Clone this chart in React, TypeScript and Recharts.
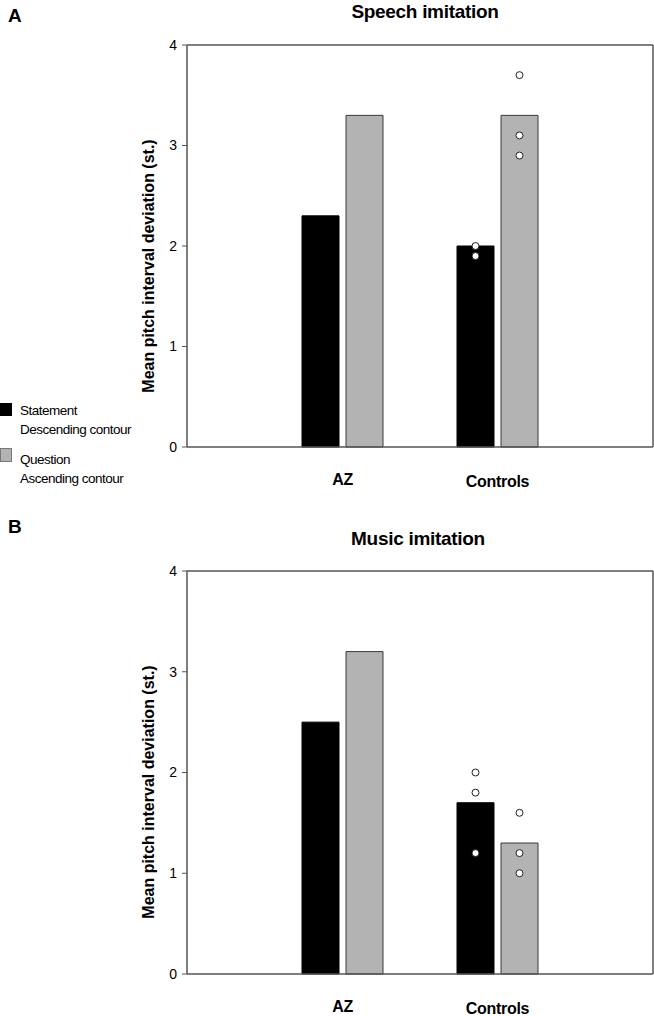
import React from 'react';
import {
  ComposedChart,
  Bar,
  Scatter,
  XAxis,
  YAxis,
  ReferenceLine,
} from 'recharts';

// ---- data ----
const categories = ['AZ', 'Controls'];
const yTicks = [0, 1, 2, 3, 4];

const speechStatement = [2.3, 2.0];
const speechQuestion = [3.3, 3.3];
const speechStatementDots = [2.0, 1.9]; // Controls individuals
const speechQuestionDots = [3.7, 3.1, 2.9];

const musicStatement = [2.5, 1.7];
const musicQuestion = [3.2, 1.3];
const musicStatementDots = [2.0, 1.8, 1.2];
const musicQuestionDots = [1.6, 1.2, 1.0];

const legendLabels = [
  ['Statement', 'Descending contour'],
  ['Question', 'Ascending contour'],
];

const FONT = '"Liberation Sans", Arial, Helvetica, sans-serif';
const GRAY = '#b3b3b3';
const AXIS = '#555';
const BAR_SIZE = 37;
const BAR_GAP = 7;
const DOT_OFFSET = (BAR_SIZE + BAR_GAP) / 2;

const buildRows = (statement: number[], question: number[]) =>
  categories.map((c, i) => ({ group: c, statement: statement[i], question: question[i] }));

const buildDots = (vals: number[]) => vals.map((v) => ({ group: 'Controls', v }));

const XTick = (props: any) => {
  const { x, y, payload, index } = props;
  return (
    <text
      x={x}
      y={y + (index === 1 ? 2 : 0)}
      dy="0.71em"
      textAnchor="middle"
      fontFamily={FONT}
      fontWeight="bold"
      fontSize={16}
      letterSpacing={-0.3}
      fill="#000"
    >
      {payload.value}
    </text>
  );
};

const dotShape = (offset: number) => (props: any) => {
  const { cx, cy } = props;
  if (cx == null || cy == null) return <g />;
  return <circle cx={cx + offset} cy={cy} r={3.5} fill="#fff" stroke="#222" strokeWidth={1} />;
};

type PanelProps = {
  rows: any[];
  statementDots: any[];
  questionDots: any[];
  height: number;
  xAxisHeight: number;
};

const Panel = ({ rows, statementDots, questionDots, height, xAxisHeight }: PanelProps) => (
  <ComposedChart
    width={654}
    height={height}
    data={rows}
    margin={{ top: 45, right: 0, left: 0, bottom: 0 }}
    barSize={BAR_SIZE}
    barGap={BAR_GAP}
  >
    <XAxis
      dataKey="group"
      type="category"
      allowDuplicatedCategory={false}
      padding={{ left: 78, right: 78 }}
      height={xAxisHeight}
      tickLine={false}
      tickSize={0}
      tickMargin={27}
      tick={<XTick />}
      axisLine={{ stroke: AXIS, strokeWidth: 1.5 }}
    />
    <YAxis
      yAxisId="l"
      domain={[0, 4]}
      ticks={yTicks}
      interval={0}
      width={187}
      tickSize={5}
      tickMargin={5}
      tick={{ fontFamily: FONT, fontSize: 14, fill: '#000' }}
      tickLine={{ stroke: AXIS }}
      axisLine={{ stroke: AXIS, strokeWidth: 1.5 }}
    />
    <YAxis
      yAxisId="r"
      orientation="right"
      domain={[0, 4]}
      width={1}
      tick={false}
      tickLine={false}
      axisLine={{ stroke: AXIS, strokeWidth: 1.5 }}
    />
    <ReferenceLine yAxisId="l" y={4} stroke={AXIS} strokeWidth={1.5} />
    <Bar
      yAxisId="l"
      dataKey="statement"
      fill="#000"
      stroke="#000"
      strokeWidth={1}
      isAnimationActive={false}
    />
    <Bar
      yAxisId="l"
      dataKey="question"
      fill={GRAY}
      stroke="#3a3a3a"
      strokeWidth={1}
      isAnimationActive={false}
    />
    <Scatter
      yAxisId="l"
      data={statementDots}
      dataKey="v"
      shape={dotShape(-DOT_OFFSET)}
      isAnimationActive={false}
    />
    <Scatter
      yAxisId="l"
      data={questionDots}
      dataKey="v"
      shape={dotShape(DOT_OFFSET)}
      isAnimationActive={false}
    />
  </ComposedChart>
);

export default function App() {
  return (
    <div
      style={{
        position: 'absolute',
        left: 0,
        top: 0,
        width: 654,
        height: 1016,
        background: '#fff',
        overflow: 'hidden',
      }}
    >
      <div style={{ position: 'absolute', left: 0, top: 0 }}>
        <Panel
          rows={buildRows(speechStatement, speechQuestion)}
          statementDots={buildDots(speechStatementDots)}
          questionDots={buildDots(speechQuestionDots)}
          height={508}
          xAxisHeight={61}
        />
      </div>
      <div style={{ position: 'absolute', left: 0, top: 526 }}>
        <Panel
          rows={buildRows(musicStatement, musicQuestion)}
          statementDots={buildDots(musicStatementDots)}
          questionDots={buildDots(musicQuestionDots)}
          height={490}
          xAxisHeight={42}
        />
      </div>
      <svg
        width={654}
        height={1016}
        style={{ position: 'absolute', left: 0, top: 0, pointerEvents: 'none' }}
        fontFamily={FONT}
      >
        <text x={8} y={22} fontSize={19} fontWeight="bold">A</text>
        <text x={8} y={533} fontSize={19} fontWeight="bold">B</text>
        <text x={425} y={18} fontSize={19} fontWeight="bold" textAnchor="middle" letterSpacing={-0.3}>
          Speech imitation
        </text>
        <text x={418} y={545} fontSize={19} fontWeight="bold" textAnchor="middle" letterSpacing={-0.3}>
          Music imitation
        </text>
        <text
          transform="translate(154,266) rotate(-90)"
          fontSize={16}
          fontWeight="bold"
          textAnchor="middle"
        >
          Mean pitch interval deviation (st.)
        </text>
        <text
          transform="translate(154,792) rotate(-90)"
          fontSize={16}
          fontWeight="bold"
          textAnchor="middle"
        >
          Mean pitch interval deviation (st.)
        </text>
        <rect x={0} y={403} width={12} height={13} fill="#000" />
        <text x={20} y={415} fontSize={13.5} letterSpacing={-0.5}>{legendLabels[0][0]}</text>
        <text x={20} y={434} fontSize={13.5} letterSpacing={-0.5}>{legendLabels[0][1]}</text>
        <rect x={0.5} y={448.5} width={11} height={13} fill={GRAY} stroke="#777" />
        <text x={20} y={464} fontSize={13.5} letterSpacing={-0.5}>{legendLabels[1][0]}</text>
        <text x={20} y={483} fontSize={13.5} letterSpacing={-0.5}>{legendLabels[1][1]}</text>
      </svg>
    </div>
  );
}
